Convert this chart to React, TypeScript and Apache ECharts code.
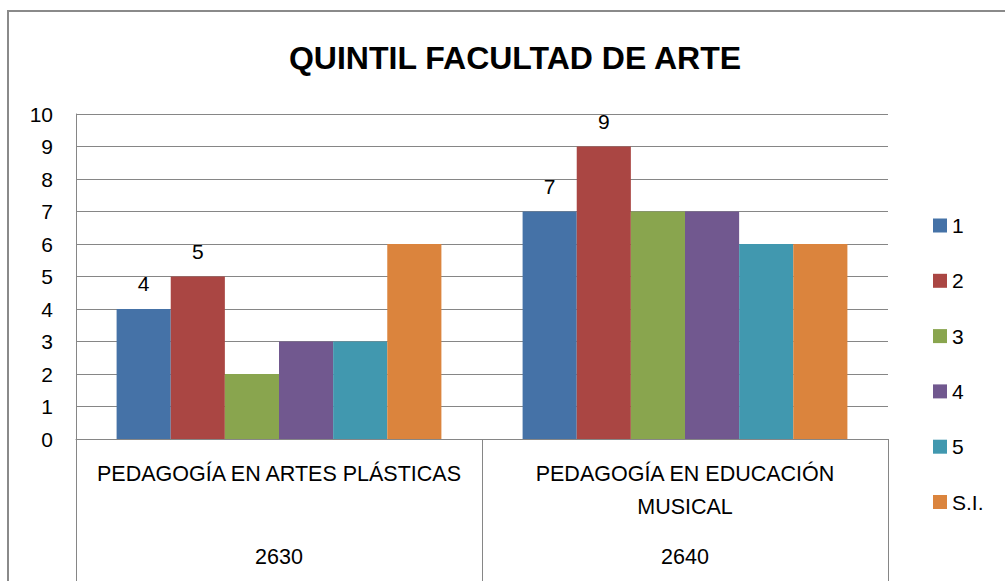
import React, { useEffect, useRef } from "react";
import * as echarts from "echarts";

const categories = ["PEDAGOGÍA EN ARTES PLÁSTICAS", "PEDAGOGÍA EN EDUCACIÓN\nMUSICAL"];
const codes = ["2630", "2640"];
const seriesNames = ["1", "2", "3", "4", "5", "S.I."];
const q1 = [4, 7];
const q2 = [5, 9];
const q3 = [2, 7];
const q4 = [3, 7];
const q5 = [3, 6];
const si = [6, 6];
const seriesData = [q1, q2, q3, q4, q5, si];
const labeled = [true, true, false, false, false, false];
const colors = ["#4572A7", "#AA4643", "#89A54E", "#71588F", "#4198AF", "#DB843D"];

const FONT = "'Liberation Sans', Arial, sans-serif";
const GRAY = "#868686";

export default function App() {
  const ref = useRef<HTMLDivElement>(null);
  useEffect(() => {
    const chart = echarts.init(ref.current!, null, { renderer: "svg" });
    chart.setOption({
      animation: false,
      backgroundColor: "#ffffff",
      textStyle: { fontFamily: FONT },
      title: {
        text: "QUINTIL FACULTAD DE ARTE",
        left: 510,
        textAlign: "center",
        top: 37,
        textStyle: { fontFamily: FONT, fontSize: 32, fontWeight: "bold", color: "#000" },
      },
      graphic: [
        {
          type: "rect",
          shape: { x: 8, y: 11, width: 1200, height: 800 },
          style: { fill: "none", stroke: "#8a8a8a", lineWidth: 2 },
          silent: true,
        },
      ],
      legend: {
        orient: "vertical",
        left: 928,
        top: 210,
        itemWidth: 14,
        itemHeight: 14,
        itemGap: 34.3,
        icon: "rect",
        data: seriesNames,
        textStyle: { fontFamily: FONT, fontSize: 21, color: "#000", lineHeight: 14, padding: [0, 0, 0, 0] },
      },
      grid: { left: 76, right: 117, top: 114, bottom: 142 },
      xAxis: [
        {
          type: "category",
          data: categories,
          axisLine: { show: true, lineStyle: { color: GRAY, width: 1 } },
          axisTick: { show: true, interval: 0, length: 150, lineStyle: { color: GRAY } },
          axisLabel: { interval: 0, fontSize: 21.5, lineHeight: 33, margin: 18, color: "#000", fontFamily: FONT },
          splitLine: { show: false },
        },
        {
          type: "category",
          data: codes,
          position: "bottom",
          axisLine: { show: false },
          axisTick: { show: false },
          axisLabel: { interval: 0, fontSize: 21.5, lineHeight: 33, margin: 101, color: "#000", fontFamily: FONT },
          splitLine: { show: false },
        },
      ],
      yAxis: {
        type: "value",
        min: 0,
        max: 10,
        interval: 1,
        axisLine: { show: true, lineStyle: { color: GRAY } },
        axisTick: { show: false },
        axisLabel: { fontSize: 21, margin: 23, color: "#000", fontFamily: FONT },
        splitLine: { show: true, lineStyle: { color: GRAY, width: 1 } },
      },
      series: seriesNames.map((name, i) => ({
        name,
        type: "bar",
        xAxisIndex: 0,
        data: seriesData[i],
        barGap: "0%",
        barCategoryGap: "20%",
        itemStyle: { color: colors[i] },
        label: {
          show: labeled[i],
          position: "top",
          distance: 15,
          fontSize: 21,
          color: "#000",
          fontFamily: FONT,
        },
      })),
    });
    return () => chart.dispose();
  }, []);
  return (
    <div
      ref={ref}
      style={{ position: "fixed", left: 0, top: 0, width: 1005, height: 581 }}
    />
  );
}
